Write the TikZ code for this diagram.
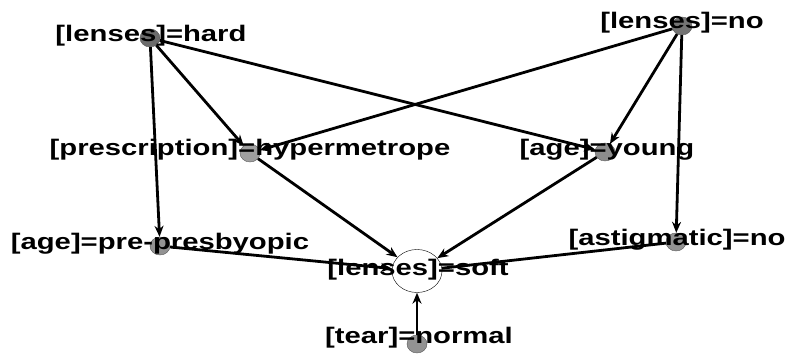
\documentclass[tikz,border=0pt]{standalone}
\usepackage{fontspec}
\setmainfont{Liberation Sans}
\newfontfamily\labfont[FakeStretch=1.3]{Liberation Sans}
\usetikzlibrary{arrows.meta,shapes.geometric}
\begin{document}
\begin{tikzpicture}[x=1pt,y=1pt,
  dot/.style={ellipse,minimum width=20pt,minimum height=18pt,inner sep=0pt,fill=#1,draw=gray!70!black,line width=0.4pt},
  dot/.default={gray},
  lab/.style={inner sep=0pt,font=\labfont\bfseries\fontsize{22.5}{25}\selectfont,text=black},
  edge/.style={line width=2.8pt,-{Stealth[length=11pt,width=9pt]}},
  plain/.style={line width=2.8pt}]
\useasboundingbox (0,0) rectangle (786,354);
% nodes (circles)
\node[dot={gray!85!black}] (hard) at (150,316) {};
\node[dot={gray!90!black}] (no) at (682,328) {};
\node[dot={gray!75}] (hyp) at (250,201) {};
\node[dot={gray!90}] (young) at (605,202) {};
\node[dot={gray!85}] (pre) at (160,108) {};
\node[dot={gray!85}] (ast) at (676,112) {};
\node[ellipse,draw=black,line width=0.4pt,fill=white,minimum width=50pt,minimum height=43pt,inner sep=0pt] (soft) at (417,83) {};
\node[dot={gray!85}] (tear) at (417,10) {};
% edges
\draw[edge] (hard) -- (hyp);
\draw[edge] (hard) -- (young);
\draw[edge] (hard) -- (pre);
\draw[edge] (no) -- (hyp);
\draw[edge] (no) -- (young);
\draw[edge] (no) -- (ast);
\draw[edge] (hyp) -- (soft);
\draw[edge] (young) -- (soft);
\draw[edge] (pre) -- (soft);
\draw[plain] (ast) -- (soft);
\draw[edge] (tear) -- (soft);
% labels
\node[lab] (hardL) at (151,318) {[lenses]=hard};
\node[lab] (noL) at (682,331) {[lenses]=no};
\node[lab] (hypL) at (250,204) {[prescription]=hypermetrope};
\node[lab] (youngL) at (607,204) {[age]=young};
\node[lab] (preL) at (160,110) {[age]=pre-presbyopic};
\node[lab] (astL) at (677,114) {[astigmatic]=no};
\node[lab] (softL) at (418,84) {[lenses]=soft};
\node[lab] (tearL) at (419,16) {[tear]=normal};
\end{tikzpicture}
\end{document}
